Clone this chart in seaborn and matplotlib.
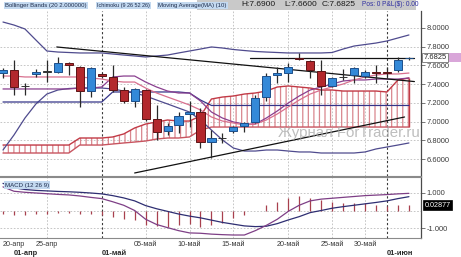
import numpy as np
import pandas as pd
import matplotlib
matplotlib.use("Agg")
import matplotlib.pyplot as plt
import matplotlib.transforms as mtransforms
from matplotlib.patches import Rectangle
import seaborn as sns

# ---------------- data ----------------
open_ = [7.514, 7.549, 7.384, 7.503, 7.531, 7.531, 7.624, 7.585, 7.325, 7.507,
         7.478, 7.336, 7.219, 7.336, 7.027, 6.902, 6.963, 7.077, 7.105, 6.785,
         6.824, 6.902, 6.952, 6.998, 7.265, 7.496, 7.521, 7.681, 7.649, 7.542,
         7.382, 7.471, 7.496, 7.489, 7.531, 7.531, 7.549, 7.675]
high = [7.571, 7.656, 7.407, 7.560, 7.656, 7.688, 7.638, 7.592, 7.585, 7.520,
        7.603, 7.371, 7.357, 7.343, 7.176, 6.984, 7.105, 7.219, 7.144, 6.909,
        6.877, 6.955, 6.998, 7.283, 7.521, 7.585, 7.621, 7.731, 7.656, 7.656,
        7.478, 7.560, 7.585, 7.549, 7.603, 7.585, 7.691, 7.690]
low = [7.464, 7.283, 7.283, 7.475, 7.425, 7.517, 7.496, 7.155, 7.265, 7.470,
       7.318, 7.197, 7.155, 7.005, 6.803, 6.856, 6.877, 6.945, 6.717, 6.611,
       6.774, 6.880, 6.891, 6.984, 7.219, 7.407, 7.425, 7.656, 7.464, 7.283,
       7.371, 7.443, 7.407, 7.461, 7.407, 7.478, 7.531, 7.660]
close = [7.549, 7.371, 7.380, 7.531, 7.535, 7.624, 7.603, 7.329, 7.571, 7.485,
         7.336, 7.219, 7.343, 7.027, 6.888, 6.955, 7.062, 7.105, 6.785, 6.824,
         6.826, 6.945, 6.987, 7.251, 7.485, 7.514, 7.585, 7.663, 7.549, 7.379,
         7.461, 7.475, 7.567, 7.531, 7.514, 7.522, 7.656, 7.6825]

bb_upper = [8.061, 8.029, 7.987, 7.869, 7.752, 7.741, 7.736, 7.731, 7.731, 7.731,
            7.720, 7.709, 7.699, 7.688, 7.699, 7.709, 7.731, 7.752, 7.773, 7.795,
            7.784, 7.768, 7.757, 7.747, 7.741, 7.736, 7.731, 7.731, 7.731, 7.731,
            7.736, 7.773, 7.805, 7.821, 7.837, 7.859, 7.891, 7.923]
bb_lower = [6.696, 6.856, 7.037, 7.187, 7.293, 7.336, 7.352, 7.357, 7.357, 7.357,
            7.347, 7.325, 7.304, 7.272, 7.229, 7.187, 7.144, 7.101, 7.016, 6.909,
            6.803, 6.717, 6.685, 6.685, 6.696, 6.696, 6.685, 6.675, 6.675, 6.664,
            6.664, 6.664, 6.664, 6.675, 6.707, 6.728, 6.749, 6.771]
tenkan = [7.347, 7.347, 7.347, 7.347, 7.347, 7.347, 7.347, 7.357, 7.357, 7.368,
          7.475, 7.485, 7.485, 7.421, 7.368, 7.325, 7.304, 7.304, 7.219, 7.101,
          7.037, 6.995, 6.973, 6.973, 7.037, 7.112, 7.197, 7.272, 7.336, 7.368,
          7.400, 7.432, 7.443, 7.443, 7.453, 7.453, 7.453, 7.464]
kijun = [7.208, 7.208, 7.208, 7.208, 7.208, 7.208, 7.208, 7.208, 7.208, 7.208,
         7.315, 7.315, 7.315, 7.315, 7.315, 7.315, 7.315, 7.304, 7.229, 7.171,
         7.171, 7.171, 7.171, 7.171, 7.171, 7.171, 7.171, 7.171, 7.171, 7.171,
         7.171, 7.171, 7.171, 7.171, 7.171, 7.171, 7.171, 7.171]
ma10 = [7.485, 7.485, 7.475, 7.475, 7.475, 7.475, 7.475, 7.475, 7.464, 7.453,
        7.432, 7.421, 7.421, 7.357, 7.304, 7.261, 7.219, 7.176, 7.123, 7.048,
        7.005, 6.984, 6.963, 6.973, 7.016, 7.080, 7.155, 7.229, 7.293, 7.336,
        7.368, 7.400, 7.443, 7.475, 7.496, 7.507, 7.507, 7.517]
span_a = [6.749, 6.749, 6.749, 6.749, 6.749, 6.749, 6.749, 6.824, 6.824, 6.824,
          6.835, 6.867, 6.931, 6.973, 6.995, 7.016, 7.005, 7.005, 7.059, 7.240,
          7.261, 7.272, 7.293, 7.304, 7.325, 7.368, 7.379, 7.368, 7.357, 7.336,
          7.336, 7.325, 7.325, 7.325, 7.325, 7.315, 7.443, 7.464]
span_b = [6.664, 6.664, 6.664, 6.664, 6.664, 6.664, 6.664, 6.749, 6.749, 6.749,
          6.760, 6.771, 6.781, 6.792, 6.813, 6.824, 6.824, 6.835, 6.909, 6.941,
          6.941, 6.941, 6.941, 6.941, 6.941, 6.941, 6.941, 6.941, 6.941, 6.941,
          6.941, 6.941, 6.941, 6.941, 6.941, 6.941, 6.941, 6.941]

macd_line = [1.35, 1.10, 1.04, 1.00, 0.96, 0.92, 0.89, 0.83, 0.75, 0.68,
             0.50, 0.30, 0.00, -0.50, -0.80, -0.98, -1.15, -1.28, -1.30, -1.35,
             -1.38, -1.40, -1.40, -1.15, -0.85, -0.50, -0.05, 0.30, 0.55, 0.65,
             0.70, 0.75, 0.80, 0.85, 0.88, 0.91, 0.95, 0.98]
signal_line = [1.55, 1.30, 1.20, 1.15, 1.12, 1.09, 1.07, 1.04, 1.00, 0.95,
               0.85, 0.72, 0.55, 0.28, 0.10, -0.05, -0.20, -0.32, -0.42, -0.55,
               -0.68, -0.78, -0.88, -0.92, -0.90, -0.75, -0.54, -0.35, -0.12, 0.00,
               0.13, 0.22, 0.30, 0.38, 0.46, 0.55, 0.68, 0.79]
macd_hist = [-0.20, -0.25, -0.25, -0.20, -0.20, -0.15, -0.15, -0.20, -0.22, -0.25,
             -0.35, -0.50, -0.55, -0.80, -0.90, -0.93, -0.83, -0.75, -0.93, -0.83,
             -0.73, -0.45, -0.25, 0.00, 0.30, 0.50, 0.70, 0.83, 0.70, 0.60,
             0.50, 0.41, 0.41, 0.41, 0.31, 0.28, 0.31, 0.31]
macd_value_label = "0.02877"

trend_down_x = [4.9, 37.5]
trend_down_y = [7.795, 7.426]
trend_up_x = [12.0, 36.6]
trend_up_y = [6.451, 7.048]
level_x = [22.5, 37.5]
level_y = [7.681, 7.681]

date_ticks = [1, 4, 13, 17, 21, 26, 30, 33]
date_labels = ["20-апр", "25-апр", "05-май", "10-май", "15-май", "20-май", "25-май", "30-май"]
grid_idx = [4, 13, 17, 21, 26, 30, 33]
month_pos = [1, 9, 35]
month_labels = ["01-апр", "01-май", "01-июн"]
month_lines = [9, 35]
price_ticks = [6.6, 6.8, 7.0, 7.2, 7.4, 7.6, 7.8, 8.0]
macd_ticks = [-1.0, 1.0]
macd_tick_labels = ["-1.000", "1.000"]

header_legends = ["Bollinger Bands (20 2.000000)", "Ichimoku (9 26 52 26)", "Moving Average(MA) (10)"]
header_hlc = ["H:7.6900", "L:7.6600", "C:7.6825"]
header_pos = "Pos: 0 P&L($): 0.00"
watermark = "Журнал ForTrader.ru"

# ---------------- figure ----------------
sns.set_style("white")
plt.rcParams['font.family'] = ['Liberation Sans', 'DejaVu Sans']
plt.rcParams['hatch.linewidth'] = 0.9

W, H = 461, 257
fig = plt.figure(figsize=(W / 100, H / 100), dpi=100)
fig.patch.set_facecolor('white')
ax = fig.add_axes([0, 1 - 176 / H, 421 / W, (176 - 11) / H])
ax2 = fig.add_axes([0, 1 - 238 / H, 421 / W, (238 - 177) / H])

idx = np.arange(len(close))
df = pd.DataFrame({"i": idx, "open": open_, "high": high, "low": low, "close": close})

xlim = (-0.273, 38.1)
grid_kw = dict(color='#bdbdbd', lw=0.6, ls=(0, (2, 2)), zorder=0.5)
month_kw = dict(color='#3a3a3a', lw=0.8, ls=(0, (2, 2)), zorder=0.6)

# ---- main panel ----
for v in price_ticks:
    ax.axhline(v, **grid_kw)
for g in grid_idx:
    ax.axvline(g, **grid_kw)
    ax2.axvline(g, **grid_kw)
for m in month_lines:
    ax.axvline(m, **month_kw)
    ax2.axvline(m, **month_kw)

# Ichimoku cloud (hatched)
ax.fill_between(idx, span_a, span_b, facecolor='none', edgecolor='#d9868e',
                hatch='|||', linewidth=0, zorder=1)
sns.lineplot(x=idx, y=span_a, ax=ax, color='#c23a46', linewidth=1.0, zorder=1.5, legend=False)
sns.lineplot(x=idx, y=span_b, ax=ax, color='#c85560', linewidth=1.0, zorder=1.5, legend=False)
ax.vlines(idx[-1], span_b[-1], span_a[-1], color='#c23a46', lw=1.0, zorder=1.5)

# indicator lines
sns.lineplot(x=idx, y=bb_upper, ax=ax, color='#4f4b8e', linewidth=0.9, zorder=2, legend=False)
sns.lineplot(x=idx, y=bb_lower, ax=ax, color='#4f4b8e', linewidth=0.9, zorder=2, legend=False)
sns.lineplot(x=idx, y=kijun, ax=ax, color='#343488', linewidth=0.9, zorder=2, legend=False)
sns.lineplot(x=idx, y=tenkan, ax=ax, color='#8a3f8f', linewidth=0.9, zorder=2, legend=False)
sns.lineplot(x=idx, y=ma10, ax=ax, color='#d8708e', linewidth=0.9, zorder=2, legend=False)

# trend lines
sns.lineplot(x=trend_down_x, y=trend_down_y, ax=ax, color='#111111', linewidth=0.9, zorder=2.5, legend=False)
sns.lineplot(x=trend_up_x, y=trend_up_y, ax=ax, color='#111111', linewidth=0.9, zorder=2.5, legend=False)
sns.lineplot(x=level_x, y=level_y, ax=ax, color='#111111', linewidth=0.9, zorder=2.5, legend=False)

# candles
up = df["close"] >= df["open"]
doji = (df["close"] - df["open"]).abs() < 0.006
face = np.where(up, '#3489d8', '#b3282d')
edge = np.where(doji, '#333333', np.where(up, '#1d4f8a', '#5e1416'))
body_low = np.minimum(df["open"], df["close"])
body_h = np.maximum((df["close"] - df["open"]).abs(), 0.004)
ax.vlines(df["i"], df["low"], df["high"], color='#2a2a2a', lw=0.9, zorder=3)
ax.bar(df["i"], body_h, bottom=body_low, width=0.74, color=face, edgecolor=edge,
       linewidth=0.7, zorder=4)

ax.set_xlim(*xlim)
ax.set_ylim(6.4187, 8.1787)
ax.set_xticks([])
ax.set_yticks(price_ticks)
ax.set_yticklabels([f"{v:.4f}" for v in price_ticks])
ax.yaxis.set_ticks_position('right')
ax.tick_params(axis='y', length=3, width=0.6, color='#606060', labelsize=5.4,
               labelcolor='#3a3a3a', pad=1.2, direction='out')
ax.set_xlabel('')
ax.set_ylabel('')
for s in ['left', 'top']:
    ax.spines[s].set_visible(False)
ax.spines['right'].set_color('#4a4a4a')
ax.spines['right'].set_linewidth(0.9)
ax.spines['bottom'].set_color('#8a8a8a')
ax.spines['bottom'].set_linewidth(0.8)

# current price label
trans = mtransforms.blended_transform_factory(ax.transAxes, ax.transData)
ax.add_patch(Rectangle((1.066, close[-1] - 0.052), 0.03, 0.104, transform=trans,
                       facecolor='#d9a6d9', edgecolor='none', clip_on=False, zorder=9))
ax.text(1.006, close[-1], f"{close[-1]:.4f}", transform=trans, fontsize=5.4,
        va='center', ha='left', color='#222222', clip_on=False, zorder=10,
        bbox=dict(boxstyle='square,pad=0.18', fc='white', ec='#707070', lw=0.6))

# ---- MACD panel ----
for v in [-1.0, 0.0, 1.0]:
    ax2.axhline(v, **grid_kw)
ax2.vlines(idx, 0, macd_hist, color='#a8404e', lw=0.9, zorder=2)
sns.lineplot(x=idx, y=signal_line, ax=ax2, color='#2e2e72', linewidth=0.9, zorder=3, legend=False)
sns.lineplot(x=idx, y=macd_line, ax=ax2, color='#7e3f86', linewidth=0.9, zorder=3, legend=False)

ax2.set_xlim(*xlim)
ax2.set_ylim(-1.571, 1.914)
ax2.set_yticks(macd_ticks)
ax2.set_yticklabels(macd_tick_labels)
ax2.yaxis.set_ticks_position('right')
ax2.tick_params(axis='y', length=3, width=0.6, color='#606060', labelsize=5.4,
                labelcolor='#3a3a3a', pad=1.2, direction='out')
ax2.set_xticks(date_ticks)
ax2.set_xticklabels(date_labels)
ax2.tick_params(axis='x', length=1.5, width=0.6, color='#606060', labelsize=5.2,
                labelcolor='#3a3a3a', pad=1.0, direction='out')
ax2.set_xlabel('')
ax2.set_ylabel('')
ax2.spines['left'].set_visible(False)
ax2.spines['top'].set_color('#8a8a8a')
ax2.spines['top'].set_linewidth(0.8)
ax2.spines['right'].set_color('#4a4a4a')
ax2.spines['right'].set_linewidth(0.9)
ax2.spines['bottom'].set_color('#8a8a8a')
ax2.spines['bottom'].set_linewidth(0.8)

trans2 = mtransforms.blended_transform_factory(ax2.transData, ax2.transAxes)
for p, lab in zip(month_pos, month_labels):
    ax2.text(p, -0.246, lab, transform=trans2, fontsize=5.4, fontweight='bold',
             ha='left', va='center', color='#2a2a2a', clip_on=False)

trans3 = mtransforms.blended_transform_factory(ax2.transAxes, ax2.transData)
ax2.text(1.008, macd_hist[-1], macd_value_label, transform=trans3, fontsize=5.2,
         va='center', ha='left', color='white', clip_on=False, zorder=10,
         bbox=dict(boxstyle='square,pad=0.2', fc='black', ec='black', lw=0.5))

# ---- header ----
fig.patches.append(Rectangle((197 / W, 1 - 9.5 / H), (416 - 197) / W, 9.5 / H,
                             transform=fig.transFigure, facecolor='#c9c9c9',
                             edgecolor='none', zorder=0))
leg_x = [5, 97, 158]
leg_fs = [4.3, 4.0, 4.3]
for x0, fs, lab in zip(leg_x, leg_fs, header_legends):
    fig.text(x0 / W, 1 - 5.2 / H, lab, fontsize=fs, ha='left', va='center',
             color='#1d2c4c', zorder=5,
             bbox=dict(boxstyle='square,pad=0.2', fc='#c3d9f0', ec='none'))
for x0, lab in zip([241, 284, 322], header_hlc):
    fig.text(x0 / W, 1 - 5.0 / H, lab, fontsize=6.0, ha='left', va='center',
             color='#1a1a1a', zorder=5)
fig.text(362 / W, 1 - 5.0 / H, header_pos, fontsize=4.7, ha='left', va='center',
         color='#2e2ea0', zorder=5)
fig.text(5 / W, 1 - 185 / H, "MACD (12 26 9)", fontsize=4.4, ha='left', va='center',
         color='#1d2c4c', zorder=5,
         bbox=dict(boxstyle='square,pad=0.2', fc='#c3d9f0', ec='none'))

# watermark
fig.text(278 / W, 1 - 133 / H, watermark, fontsize=10.8, ha='left', va='center',
         color='#a8a8a8', alpha=0.75, zorder=20)

fig.savefig("out.png", dpi=100)
